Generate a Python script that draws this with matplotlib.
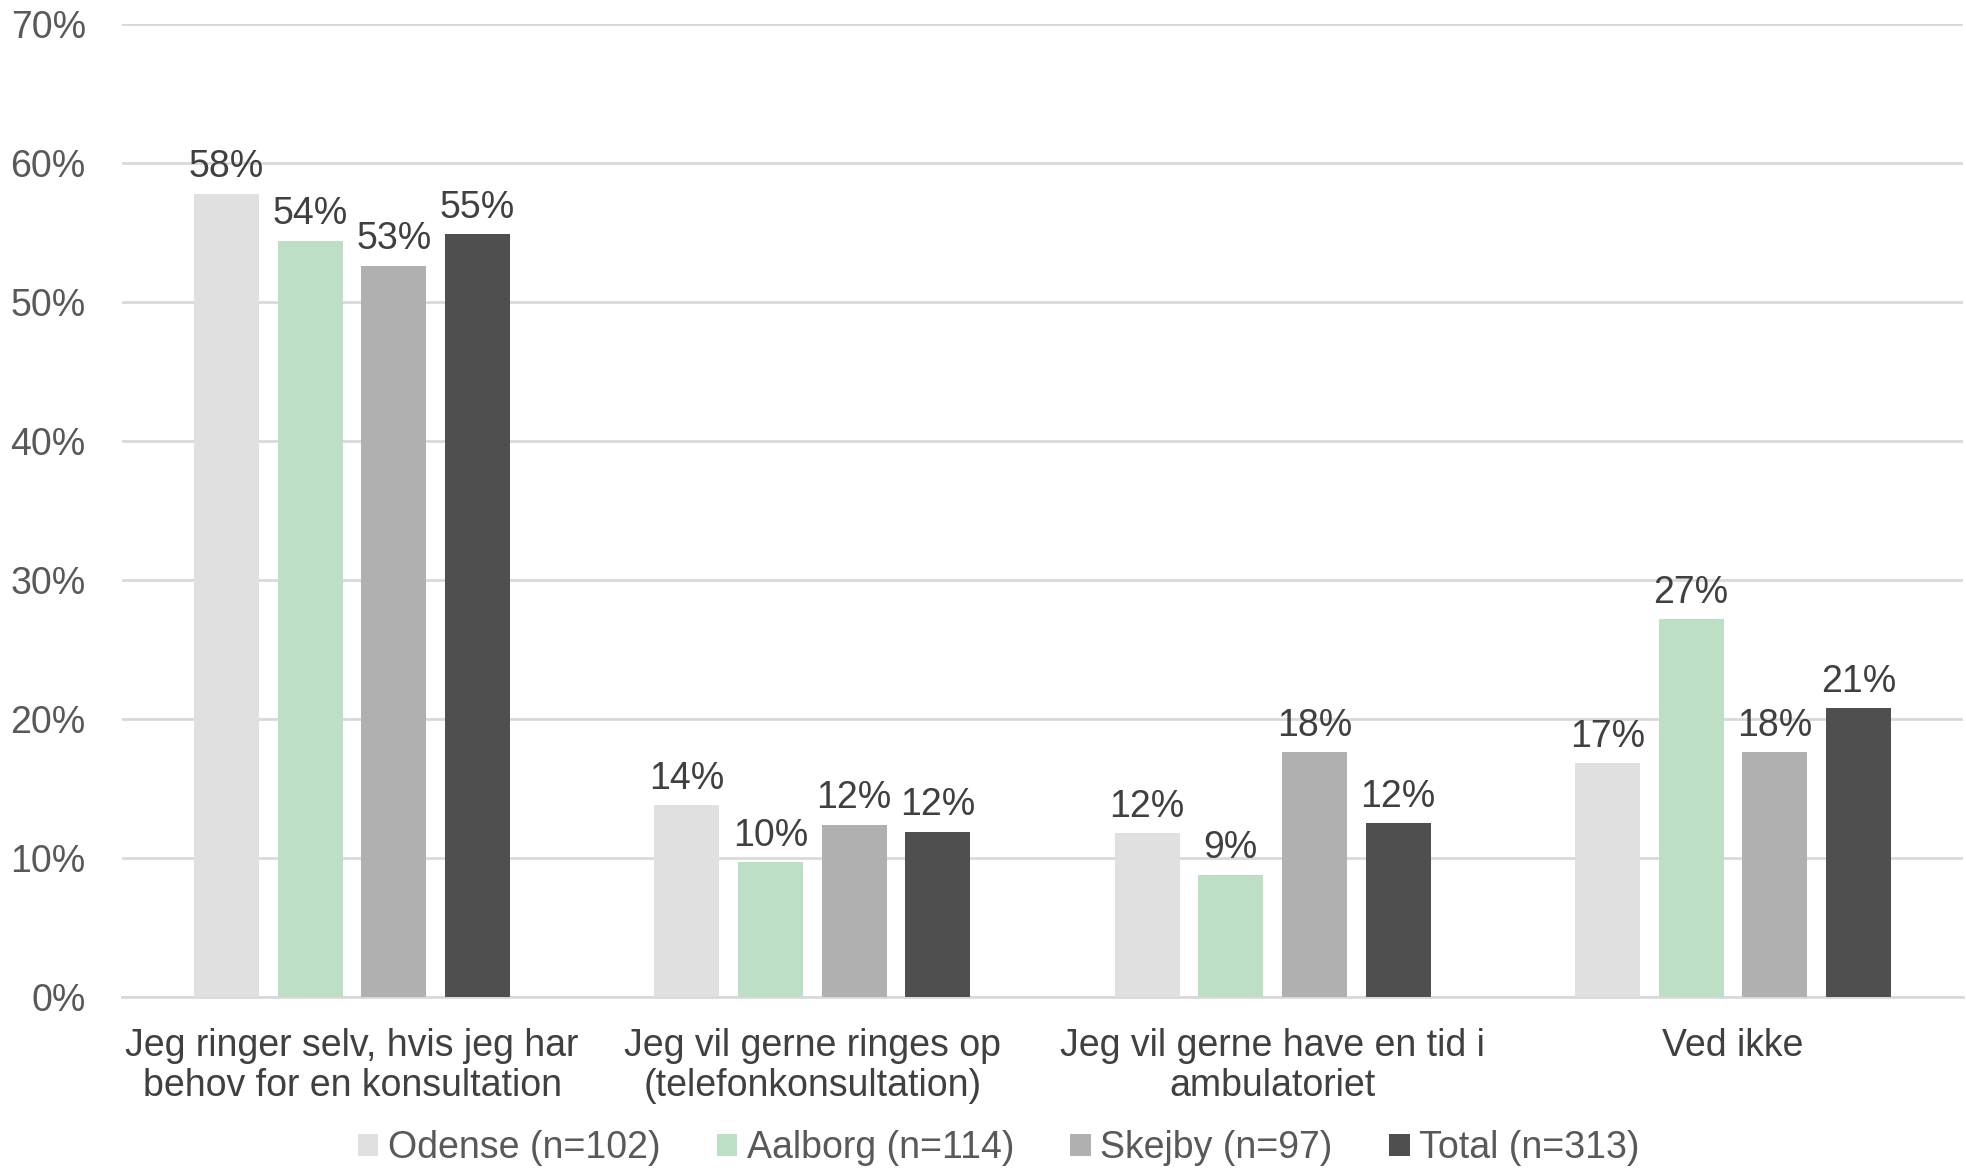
import matplotlib
matplotlib.use("Agg")
import matplotlib.pyplot as plt
import numpy as np

categories = ["Jeg ringer selv, hvis jeg har\nbehov for en konsultation",
              "Jeg vil gerne ringes op\n(telefonkonsultation)",
              "Jeg vil gerne have en tid i\nambulatoriet",
              "Ved ikke"]
series_names = ["Odense (n=102)", "Aalborg (n=114)", "Skejby (n=97)", "Total (n=313)"]
odense = [57.8, 13.8, 11.8, 16.8]
aalborg = [54.4, 9.7, 8.8, 27.2]
skejby = [52.6, 12.4, 17.6, 17.6]
total = [54.9, 11.9, 12.5, 20.8]
labels_odense = ["58%", "14%", "12%", "17%"]
labels_aalborg = ["54%", "10%", "9%", "27%"]
labels_skejby = ["53%", "12%", "18%", "18%"]
labels_total = ["55%", "12%", "12%", "21%"]
yticks = [0, 10, 20, 30, 40, 50, 60, 70]

colors = ["#E0E0E0", "#BCDFC5", "#B0B0B0", "#4F4F4F"]
plt.rcParams['font.family'] = ['Liberation Sans', 'DejaVu Sans']

fig = plt.figure(figsize=(19.66, 11.68), dpi=100)
ax = fig.add_axes([0.062, 0.1464, 0.9365, 0.8331])

x = np.arange(len(categories))
step = 0.1818
width = 0.141
data = [odense, aalborg, skejby, total]
lbls = [labels_odense, labels_aalborg, labels_skejby, labels_total]
for i, (vals, lab) in enumerate(zip(data, lbls)):
    pos = x + (i - 1.5) * step
    bars = ax.bar(pos, vals, width, color=colors[i], label=series_names[i], zorder=3)
    for b, t in zip(bars, lab):
        ax.text(b.get_x() + b.get_width() / 2, b.get_height() + 0.6, t,
                ha="center", va="bottom", fontsize=27, color="#404040")

ax.set_xlim(-0.5, 3.5)
ax.set_ylim(0, 70)
ax.set_yticks(yticks)
ax.set_yticklabels([f"{v}%" for v in yticks], fontsize=27, color="#595959")
ax.set_xticks(x)
ax.set_xticklabels(categories, fontsize=27, color="#404040", linespacing=1.17)
ax.tick_params(axis="x", length=0, pad=22)
ax.tick_params(axis="y", length=0, pad=26)
ax.grid(axis="y", color="#D9D9D9", linewidth=2, zorder=0)
for s in ["top", "right", "left"]:
    ax.spines[s].set_visible(False)
ax.spines["bottom"].set_color("#D9D9D9")
ax.spines["bottom"].set_linewidth(2)

leg = fig.legend(loc="center", bbox_to_anchor=(0.508, 0.017), ncol=4, frameon=False,
                 fontsize=27, handlelength=0.55, handleheight=0.55, handletextpad=0.25,
                 columnspacing=1.5)
for t in leg.get_texts():
    t.set_color("#595959")

fig.savefig("out.png", dpi=100)
